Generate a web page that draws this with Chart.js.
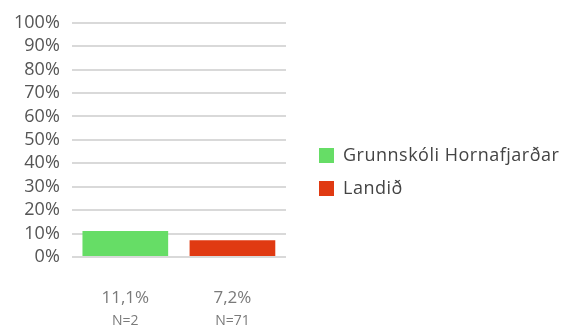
<!DOCTYPE html>
<html>
<head>
<meta charset="utf-8">
<script src="https://cdn.jsdelivr.net/npm/chart.js@4.4.1/dist/chart.umd.min.js"></script>
<style>
  html, body { margin: 0; padding: 0; background: #fff; }
  #wrap { width: 568px; height: 334px; }
</style>
</head>
<body>
<div id="wrap"><canvas id="report"></canvas></div>
<script>
const schools = ['Grunnskóli Hornafjarðar', 'Landið'];
const percents = [11.1, 7.2];
const counts = [2, 71];
const barColors = ['#66dd66', '#e03a12'];
const yTicks = [0, 10, 20, 30, 40, 50, 60, 70, 80, 90, 100];

const FONT = "'Open Sans'";

// labels under each bar: percentage on top, N= below
const bottomLabels = {
    id: 'bottomLabels',
    afterDraw(chart) {
        const ctx = chart.ctx;
        const x = chart.scales.x;
        const y0 = chart.chartArea.bottom;
        ctx.save();
        ctx.textAlign = 'center';
        ctx.textBaseline = 'middle';
        ctx.fillStyle = '#7a7a7a';
        percents.forEach((p, i) => {
            const px = x.getPixelForValue(i);
            ctx.font = '17px ' + FONT;
            ctx.fillText(p.toFixed(1).replace('.', ',') + '%', px, y0 + 41);
            ctx.font = '14px ' + FONT;
            ctx.fillText('N=' + counts[i], px, y0 + 64);
        });
        ctx.restore();
    }
};

// legend on the right, one square and name per school
const sideLegend = {
    id: 'sideLegend',
    afterDraw(chart) {
        const ctx = chart.ctx;
        const left = 319;
        const mid = chart.height / 2;
        ctx.save();
        ctx.textBaseline = 'middle';
        ctx.font = '18px ' + FONT;
        ctx.letterSpacing = '0.5px';
        schools.forEach((s, i) => {
            const cy = mid - 11.5 + i * 33;
            ctx.fillStyle = barColors[i];
            ctx.fillRect(left, cy - 7.5, 15, 15);
            ctx.fillStyle = '#444';
            ctx.fillText(s, left + 24, cy);
        });
        ctx.restore();
    }
};

document.addEventListener("DOMContentLoaded", function() {
    const ctx = document.getElementById('report').getContext('2d');
    let myChart = new Chart(ctx, {
        type: 'bar',
        data: {
            labels: schools,
            datasets: [{
                data: percents,
                backgroundColor: barColors,
                borderWidth: 0,
                categoryPercentage: 0.8,
                barPercentage: 1
            }]
        },
        options: {
            responsive: true,
            maintainAspectRatio: false,
            animation: false,
            layout: { padding: { top: 18, bottom: 69, left: 2, right: 282 } },
            plugins: {
                tooltip: { enabled: false },
                legend: { display: false }
            },
            scales: {
                x: {
                    ticks: { display: false },
                    grid: { display: false },
                    border: { display: false }
                },
                y: {
                    min: 0,
                    max: 100,
                    afterBuildTicks: axis => { axis.ticks = yTicks.map(v => ({ value: v })); },
                    ticks: {
                        autoSkip: false,
                        padding: 12,
                        color: '#555',
                        font: { family: 'Open Sans', size: 18 },
                        callback: v => v + '%'
                    },
                    grid: { color: '#d9d9d9', lineWidth: 2, drawTicks: false },
                    border: { display: false }
                }
            }
        },
        plugins: [bottomLabels, sideLegend]
    });
});
</script>
</body>
</html>
